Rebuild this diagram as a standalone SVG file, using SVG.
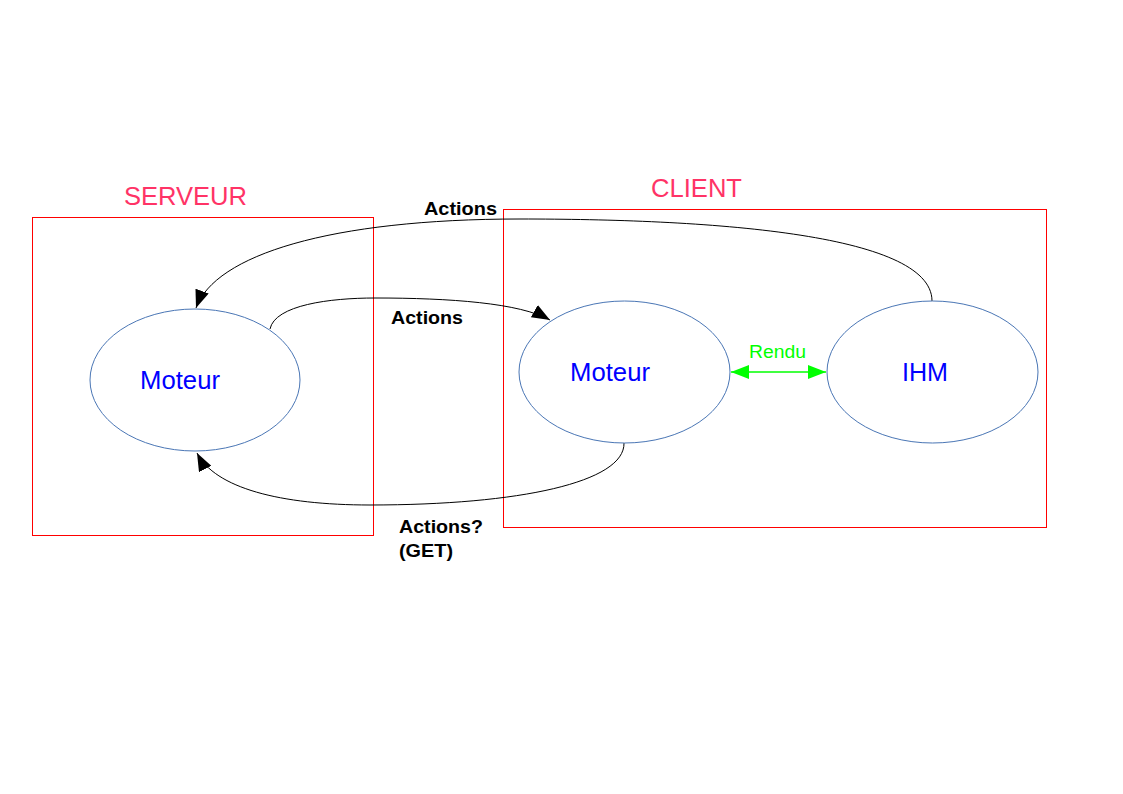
<svg xmlns="http://www.w3.org/2000/svg" width="1123" height="794" viewBox="0 0 1123 794">
<style>
.box{fill:none;stroke:#ff0000;stroke-width:1}
.title{font-family:"Liberation Sans",Arial,sans-serif;font-size:26px;fill:#ff3366}
.node{fill:#fff;stroke:#4a76b5;stroke-width:1}
.nlabel{font-family:"Liberation Sans",Arial,sans-serif;font-size:25.5px;fill:#0000ff}
.conn{fill:none;stroke:#000;stroke-width:1}
.clabel{font-family:"Liberation Sans",Arial,sans-serif;font-size:18px;font-weight:bold;fill:#000}
.rendu{font-family:"Liberation Sans",Arial,sans-serif;font-size:18px;fill:#00ff00}
</style>
<defs>
<marker id="ah" markerWidth="18" markerHeight="14" refX="18" refY="7" orient="auto" markerUnits="userSpaceOnUse">
<path d="M0,0 L18,7 L0,14 Z" fill="#000"/>
</marker>
<marker id="gh" markerWidth="18" markerHeight="14" refX="18" refY="7" orient="auto-start-reverse" markerUnits="userSpaceOnUse">
<path d="M0,0 L18,7 L0,14 Z" fill="#00ff00"/>
</marker>
</defs>
<rect width="1123" height="794" fill="#fff"/>
<g id="serveur">
<rect class="box" x="32.5" y="217.5" width="341" height="318"/>
<text class="title" x="124" y="205" textLength="123" lengthAdjust="spacingAndGlyphs">SERVEUR</text>
</g>
<g id="client">
<rect class="box" x="503.5" y="209.5" width="543" height="318"/>
<text class="title" x="651" y="197" textLength="91" lengthAdjust="spacingAndGlyphs">CLIENT</text>
</g>
<g id="connectors">
<path class="conn" d="M932,301 C932,232 700,219 520,219 C330,219 215,255 196,308" marker-end="url(#ah)"/>
<path class="conn" d="M270,329 C275,305 330,298 375,298 C450,298 520,303 550,320" marker-end="url(#ah)"/>
<path class="conn" d="M624,443 C625,482 520,505 370,505 C280,505 215,488 197,453" marker-end="url(#ah)"/>
<line x1="731" y1="372" x2="826" y2="372" stroke="#00ff00" stroke-width="1.5" marker-start="url(#gh)" marker-end="url(#gh)"/>
<text class="clabel" x="424" y="215" textLength="73" lengthAdjust="spacingAndGlyphs">Actions</text>
<text class="clabel" x="391" y="324" textLength="72" lengthAdjust="spacingAndGlyphs">Actions</text>
<text class="clabel" x="399" y="533" textLength="84" lengthAdjust="spacingAndGlyphs">Actions?</text>
<text class="clabel" x="399" y="557" textLength="54" lengthAdjust="spacingAndGlyphs">(GET)</text>
<text class="rendu" x="749" y="358" textLength="57" lengthAdjust="spacingAndGlyphs">Rendu</text>
</g>
<g id="moteur-serveur">
<ellipse class="node" cx="195" cy="380" rx="105" ry="71"/>
<text class="nlabel" x="140" y="389" textLength="80" lengthAdjust="spacingAndGlyphs">Moteur</text>
</g>
<g id="moteur-client">
<ellipse class="node" cx="624.5" cy="372" rx="105.5" ry="71"/>
<text class="nlabel" x="570" y="381" textLength="80" lengthAdjust="spacingAndGlyphs">Moteur</text>
</g>
<g id="ihm">
<ellipse class="node" cx="932.5" cy="372" rx="105.5" ry="71"/>
<text class="nlabel" x="902" y="381" textLength="46" lengthAdjust="spacingAndGlyphs">IHM</text>
</g>
</svg>
